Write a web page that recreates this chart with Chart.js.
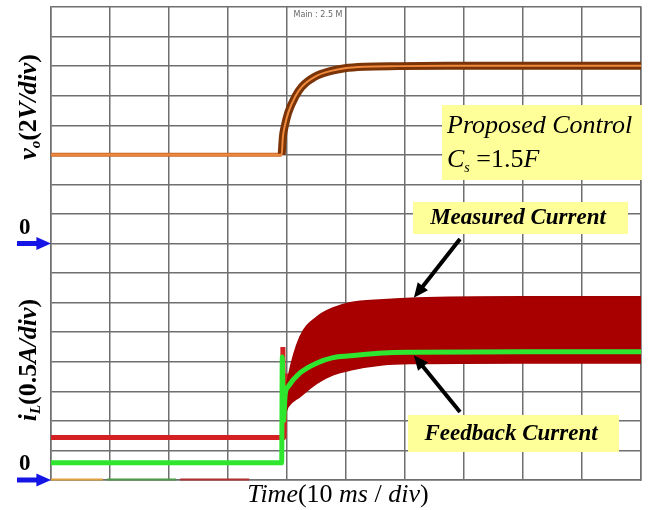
<!DOCTYPE html>
<html>
<head>
<meta charset="utf-8">
<script src="https://cdn.jsdelivr.net/npm/chart.js@4/dist/chart.umd.min.js"></script>
<style>
  body { margin: 0; background: #fff; }
  #wrap { width: 652px; height: 510px; }
</style>
</head>
<body>
<div id="wrap"><canvas id="scope" width="652" height="510"></canvas></div>
<script>
// --- datos (tiempo en ms, 10 ms/div) ---

// tension de salida v_o (V), 2 V/div, cero en la division 8
const voTime = [0, 39.1, 39.3, 39.6, 40.2, 41.4, 42.5, 44.7, 47.5, 49.8, 53.1, 58.8, 67.2, 80, 100];
const voVolts = [6.0, 6.0, 7.2, 7.9, 8.84, 9.94, 10.6, 11.28, 11.68, 11.86, 11.96, 12.0, 12.02, 12.02, 12.02];

// corriente medida antes del escalon (A), 0.5 A/div
const measPreTime = [0, 39.2, 39.3, 39.5, 39.7, 39.8];
const measPreAmps = [0.72, 0.72, 2.25, 0.7, 1.8, 1.3];

// envolvente de la corriente medida despues del escalon (A)
const bandTime = [39.8, 40.2, 42.2, 45.1, 47.8, 50.7, 56.3, 62.0, 80, 100];
const bandUpper = [1.5, 1.74, 2.42, 2.76, 2.91, 3.0, 3.05, 3.08, 3.1, 3.1];
const bandLower = [1.15, 1.24, 1.41, 1.64, 1.78, 1.86, 1.95, 1.97, 1.98, 1.98];

// corriente de realimentacion (A)
const fbTime = [0, 39.1, 39.2, 39.4, 39.7, 40.2, 42.2, 45.1, 47.8, 50.7, 56.3, 62.0, 80, 100];
const fbAmps = [0.29, 0.29, 2.08, 1.0, 1.45, 1.58, 1.81, 1.98, 2.07, 2.1, 2.15, 2.16, 2.17, 2.17];

// marcas de canal abajo (ms)
const chanMarks = [[0, 8.8, '#e0a040'], [9.5, 21.2, '#4a9a4a'], [21.9, 33.6, '#b03030']];

function pts(xs, ys) {
  return xs.map((x, i) => ({ x: x, y: ys[i] }));
}

// --- dibujo de texto con varias fuentes ---
function drawRuns(ctx, runs, x, y) {
  let total = 0;
  runs.forEach(r => { ctx.font = r[1]; total += ctx.measureText(r[0]).width; });
  let cx = x - total / 2;
  runs.forEach(r => {
    ctx.font = r[1];
    ctx.fillText(r[0], cx, y + (r[2] || 0));
    cx += ctx.measureText(r[0]).width;
  });
}

function arrow(ctx, x1, y1, x2, y2, color, w, head) {
  const a = Math.atan2(y2 - y1, x2 - x1);
  ctx.strokeStyle = color;
  ctx.fillStyle = color;
  ctx.lineWidth = w;
  ctx.beginPath();
  ctx.moveTo(x1, y1);
  ctx.lineTo(x2 - Math.cos(a) * head * 0.8, y2 - Math.sin(a) * head * 0.8);
  ctx.stroke();
  ctx.beginPath();
  ctx.moveTo(x2, y2);
  ctx.lineTo(x2 - head * Math.cos(a - 0.42), y2 - head * Math.sin(a - 0.42));
  ctx.lineTo(x2 - head * Math.cos(a + 0.42), y2 - head * Math.sin(a + 0.42));
  ctx.closePath();
  ctx.fill();
}

const serif = '"Liberation Serif", "Times New Roman", serif';

const scopeDeco = {
  id: 'scopeDeco',
  afterDraw(chart) {
    const ctx = chart.ctx;
    const xs = chart.scales.x;
    const yV = chart.scales.yV;
    const yI = chart.scales.yI;
    ctx.save();

    // marcas de canal
    ctx.lineWidth = 2;
    chanMarks.forEach(m => {
      ctx.strokeStyle = m[2];
      ctx.beginPath();
      ctx.moveTo(xs.getPixelForValue(m[0]), yI.bottom - 0.5);
      ctx.lineTo(xs.getPixelForValue(m[1]), yI.bottom - 0.5);
      ctx.stroke();
    });

    // flechas azules de cero y etiquetas "0"
    const left = chart.chartArea.left;
    [yV.getPixelForValue(0), yI.getPixelForValue(0)].forEach(py => {
      arrow(ctx, 17, py, left, py, '#1515e6', 5, 16);
      ctx.fillStyle = '#000';
      ctx.textBaseline = 'alphabetic';
      ctx.font = 'bold 23px ' + serif;
      ctx.textAlign = 'left';
      ctx.fillText('0', 19, py - 10);
    });

    // texto del osciloscopio
    ctx.fillStyle = '#666';
    ctx.font = '8px "DejaVu Sans", sans-serif';
    ctx.textAlign = 'center';
    ctx.fillText('Main : 2.5 M', 318, 17);
    ctx.textAlign = 'left';

    // titulos de eje verticales
    ctx.fillStyle = '#000';
    ctx.textBaseline = 'middle';
    const bi = 'bold italic 26px ' + serif;
    const bn = 'bold 26px ' + serif;
    const bs = 'bold italic 15px ' + serif;
    ctx.save();
    ctx.translate(29, 107);
    ctx.rotate(-Math.PI / 2);
    drawRuns(ctx, [['v', bi], ['o', bs, 7], ['(2', bn], ['V/div', bi], [')', bn]], 0, 0);
    ctx.restore();
    ctx.save();
    ctx.translate(29, 360);
    ctx.rotate(-Math.PI / 2);
    drawRuns(ctx, [['i', bi], ['L', bs, 7], ['(0.5', bn], ['A/div', bi], [')', bn]], 0, 0);
    ctx.restore();

    // titulo de tiempo
    const it = 'italic 26px ' + serif;
    const nt = '26px ' + serif;
    drawRuns(ctx, [['Time', it], ['(10 ', nt], ['ms', it], [' / ', nt], ['div', it], [')', nt]], 338, 495);

    // cuadro "Proposed Control"
    ctx.fillStyle = '#ffff99';
    ctx.fillRect(442, 105, 200, 75);
    ctx.fillStyle = '#000';
    ctx.textBaseline = 'alphabetic';
    ctx.font = 'italic 26px ' + serif;
    ctx.fillText('Proposed Control', 447, 133);
    let cx = 447;
    const parts = [['C', 'italic 26px ' + serif, 0], ['s', 'italic 14px ' + serif, 5], [' =1.5', '26px ' + serif, 0], ['F', 'italic 26px ' + serif, 0]];
    parts.forEach(p => {
      ctx.font = p[1];
      ctx.fillText(p[0], cx, 167 + p[2]);
      cx += ctx.measureText(p[0]).width;
    });

    // cuadros de las corrientes
    ctx.fillStyle = '#ffff99';
    ctx.fillRect(413, 202, 215, 32);
    ctx.fillRect(408, 415, 211, 37);
    ctx.fillStyle = '#000';
    ctx.textBaseline = 'middle';
    ctx.textAlign = 'center';
    ctx.font = 'bold italic 23px ' + serif;
    ctx.fillText('Measured Current', 518, 218);
    ctx.fillText('Feedback Current', 511, 434);

    // flechas negras
    arrow(ctx, 460, 239, xs.getPixelForValue(61.5), yI.getPixelForValue(3.1) + 1, '#000', 4, 16);
    arrow(ctx, 460, 412, xs.getPixelForValue(61.5), yI.getPixelForValue(2.16) + 3, '#000', 4, 16);

    ctx.restore();
  }
};

const gridColor = '#6f6f6f';

new Chart(document.getElementById('scope'), {
  type: 'line',
  data: {
    datasets: [
      {
        label: 'Feedback Current',
        data: pts(fbTime, fbAmps),
        yAxisID: 'yI',
        borderColor: '#2fe62f',
        borderWidth: 5,
        cubicInterpolationMode: 'monotone',
        pointRadius: 0
      },
      {
        label: 'Measured Current (upper)',
        data: pts(bandTime, bandUpper),
        yAxisID: 'yI',
        borderColor: '#a00000',
        backgroundColor: '#a80000',
        borderWidth: 1.5,
        fill: '+1',
        cubicInterpolationMode: 'monotone',
        pointRadius: 0
      },
      {
        label: 'Measured Current (lower)',
        data: pts(bandTime, bandLower),
        yAxisID: 'yI',
        borderColor: '#a00000',
        borderWidth: 1.5,
        fill: false,
        cubicInterpolationMode: 'monotone',
        pointRadius: 0
      },
      {
        label: 'Measured Current',
        data: pts(measPreTime, measPreAmps),
        yAxisID: 'yI',
        borderColor: '#d42020',
        borderWidth: 5,
        pointRadius: 0
      },
      {
        label: 'vo',
        data: pts(voTime, voVolts),
        yAxisID: 'yV',
        borderColor: '#f08a3c',
        borderWidth: 2,
        cubicInterpolationMode: 'monotone',
        pointRadius: 0
      },
      {
        label: 'vo (band)',
        data: pts(voTime.slice(1), voVolts.slice(1)),
        yAxisID: 'yV',
        borderColor: '#7a3408',
        borderWidth: 8,
        cubicInterpolationMode: 'monotone',
        pointRadius: 0
      },
      {
        label: 'vo (base)',
        data: pts(voTime.slice(0, 2), voVolts.slice(0, 2)),
        yAxisID: 'yV',
        borderColor: '#c8682c',
        borderWidth: 4,
        pointRadius: 0
      }
    ]
  },
  options: {
    responsive: false,
    animation: false,
    layout: { padding: { left: 51, top: 7, right: 11, bottom: 30 } },
    plugins: { legend: { display: false }, tooltip: { enabled: false } },
    scales: {
      x: {
        type: 'linear',
        min: 0,
        max: 100,
        ticks: { display: false, stepSize: 10 },
        grid: { color: gridColor, lineWidth: 1.5, drawTicks: false },
        border: { display: true, color: gridColor, width: 1.5 }
      },
      yI: {
        type: 'linear',
        position: 'left',
        min: 0,
        max: 8,
        ticks: { display: false, stepSize: 0.5 },
        grid: { color: gridColor, lineWidth: 1.5, drawTicks: false },
        border: { display: true, color: gridColor, width: 1.5 }
      },
      yV: {
        type: 'linear',
        position: 'right',
        min: -16,
        max: 16,
        ticks: { display: false },
        grid: { display: false, drawTicks: false },
        border: { display: true, color: gridColor, width: 1.5 }
      }
    }
  },
  plugins: [scopeDeco]
});
</script>
</body>
</html>
